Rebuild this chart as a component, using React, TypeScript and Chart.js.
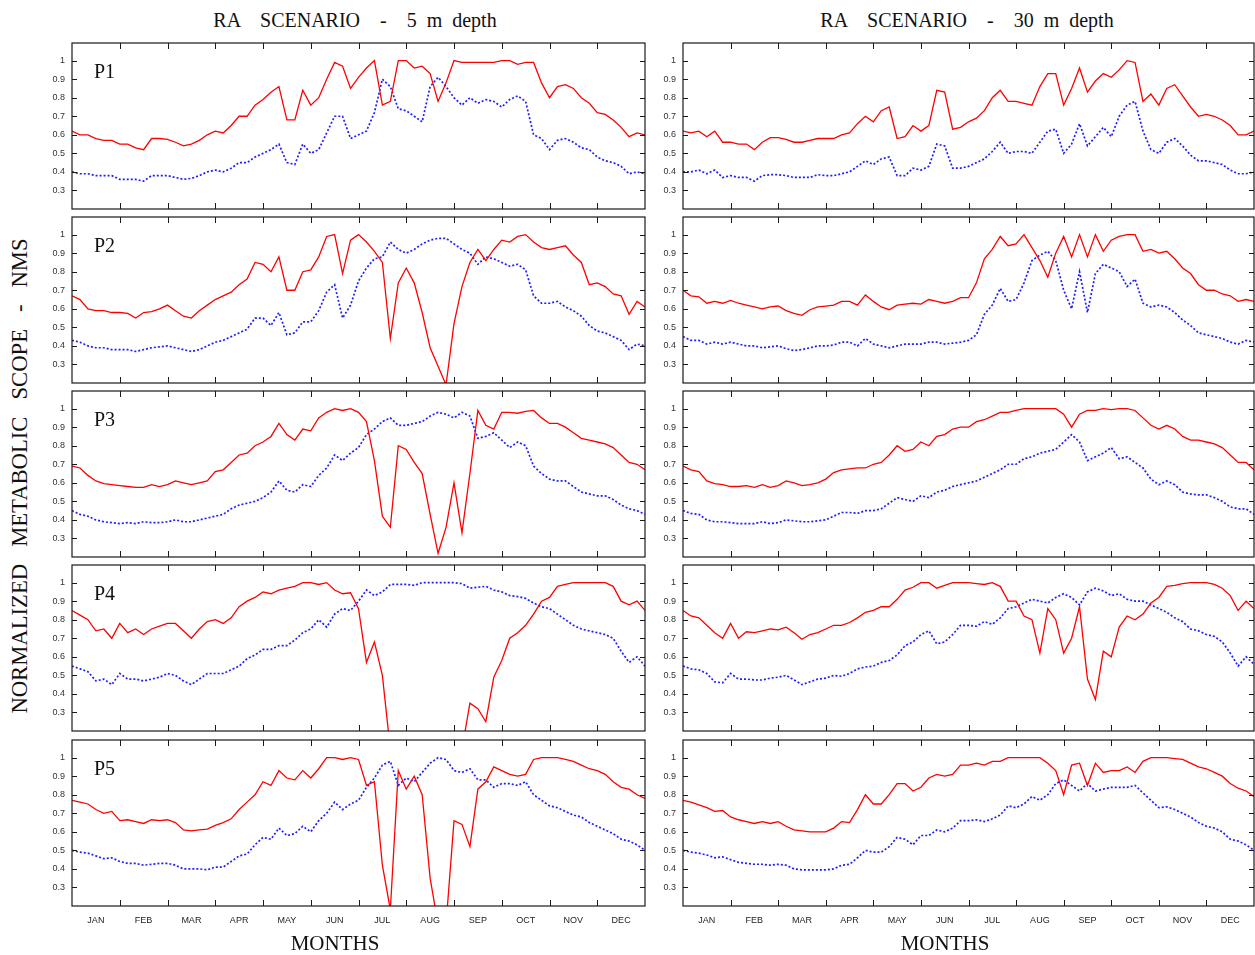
import React, { useEffect, useRef } from "react";
import { Chart, registerables } from "chart.js";
Chart.register(...registerables);

// ---------- data (values in hundredths of NMS, 6 samples per month, Jan 1 .. Dec 31) ----------
const MONTHS = ["JAN", "FEB", "MAR", "APR", "MAY", "JUN", "JUL", "AUG", "SEP", "OCT", "NOV", "DEC"];
const SAMPLES_PER_MONTH = 6;
const Y_TICKS = [1, 0.9, 0.8, 0.7, 0.6, 0.5, 0.4, 0.3];
const PANEL_LABELS = ["P1", "P2", "P3", "P4", "P5"];
const TITLES = ["RA    SCENARIO    -    5  m  depth", "RA    SCENARIO    -    30  m  depth"];

const p1_5_red = [62,60,60,58,57,57, 55,55,53,52,58,58, 57.5,56,54,55,57,60, 62,61,65,70,70,76, 79,83,86,68,68,84, 76,80,90,99,97,85, 91,96,100,76,78,100, 100,96,97,93,78,88, 100,99,99,99,99,99, 100,100,98,99,99,88, 80,86,87,85,80,77, 72,71,68,64,59,61, 60];
const p1_5_blue = [40,39,39,38,38,38, 36,36,36,35,38,38, 38,37,36,36.5,38,40, 41,40,42,45,45,48, 50,52,55,45,44,55, 50,52,61,70,70,58, 60,62,72,90,86,74, 73,70,67,86,91,86, 80,76,80,77,79,78, 75,79,81,78,60,58, 52,57,58,56,53,52, 48,46,45,43,39,40, 39];
const p1_30_red = [62,61,62,59,62,56, 56,55,55,52,56,58.5, 58.5,57.5,56,56,57,58, 58,58,60,61,66,70, 67,73,75,58,59,65, 62,65,84,83,63,64, 67,69,73,80,84,78, 78,77,76,86,93,93, 76,85,96,83,89,93, 91,95,100,99,78,82, 76,85,87,81,75,70, 71,70,68,65,60,60, 62];
const p1_30_blue = [40,40,41,39,41,37, 38,37,37,35,38,38.5, 38.5,38,37,37,37,38.5, 38,38,39,40,43,46, 44,47,48,38,38,42, 41,43,55,54,42,42, 43,45,47,51,56,50, 51,51,50,56,62,63, 50,55,66,54,59,64, 59,70,76,78,62,52, 50,56,58,54,49,46, 46,45,44,41,39,39, 40];

const p2_5_red = [67,65,60,59,59,58, 58,57.5,55,58,58.5,60, 62,59,56,55,59,62, 65,67,69,73,76,85, 84,80,88,70,70,80, 81,88,99,100,79,97, 100,96,91,85,44,74, 82,74,58,39,29,19, 52,72,85,92,86,92, 97,96,99,100,96,93, 92,93,94,89,85,73, 74,72,68,67,57,64, 61];
const p2_5_blue = [43,42,40,39,39,38, 38,38,37,38,39,39.5, 40,39,38,37,38,40, 42,43,45,47,49,55, 55,51,58,46,47,53, 53,59,69,73,55,62, 75,82,87,88,96,92, 90,92,95,97,98,98, 95,92,90,84,88,87, 85,83,84,81,67,63, 63,64,61,59,56,51, 48,47,45,43,38,41, 40];
const p2_30_red = [70,67,66.5,63,64,63, 64.5,63,62,61,60,61, 61.5,59,57.5,56.5,59.5,61, 61.5,62,64,64,62,67.5, 64,61,59.5,62,62.5,63, 62.5,65,64,63,64,66, 66,74,87,92,99,94, 95,100,93,86,77,90, 99,88,100,88,100,91, 97,99,100,100,91,92, 90,91,87,82,79,73, 70,70,68,67,64,65, 64];
const p2_30_blue = [45,43,43,41,42,41, 42,41,40,40,39,39.5, 40,38.5,37.5,38,39,40, 40,40.5,42,42,40,44, 41,40,39,40,41,41, 41,42,42,41,41.5,42, 43,46,57,62,71,64, 65,74,86,89,91,86, 70,60,80,58,79,84, 82,80,72,76,63,61, 62,61,58,54,51,47, 46,45,44,42,41,43, 42];

const p3_5_red = [69,68,64,61,59.5,59, 58.5,58,57.5,57.5,59,58, 59,61,60,59,60,61, 66,67,71,75,76,80, 82,85,92,86,83,89, 88,95,98,100,99,100, 98,93,72,42,36,80, 78,71,65,43,22,36, 60,33,65,99,91,89, 98,98,97.5,98.5,99,95, 92,92,90,87,84,83, 82,81,79,75,71,70, 67];
const p3_5_blue = [45,43,42,40,39,38.5, 38,38.5,38,39,38.5,38.5, 39,40,39,39,40,41, 42,43,46,48,49,50, 52,55,61,56,55,59, 58,64,68,75,72,76, 79,86,89,93,95,91, 91,92,93,96,98,97, 95,98,96,84,85,87, 83,79,82,80,69,65, 62,61,61,58,55,54, 53,53,51,48,46,45, 43];
const p3_30_red = [69,67,66,61,59.5,59, 58,58,58.5,57.5,59,57.5, 58.5,61,60,58.5,59,60, 62,65.5,67,67.5,68,68, 70,71,75,80,77,78, 82,80,85,86,89,90, 90,93,94,96,98,98, 99,100,100,100,100,100, 97,90,97,99,99,100, 99.5,100,100,99,95,91, 89,91,89,85,83,83, 82,81,79,75,71,71, 67];
const p3_30_blue = [45,43.5,43,40,39,39, 38.5,38,38,38,39,38, 38.5,40,39.5,39,39,39.5, 40,42,44,44,43.5,45, 45,46,49,52,51,50, 53,52,55,56,58,59, 60,61,63,65,67,70, 70,73,74,76,77,78, 82,86,82,72,74,76, 79,73,74,71,68,62, 59,61,59,55,54,53.5, 53.5,52,50,47,46,46, 43];

const p4_5_red = [85,82.5,80,74,75,70, 78,73,75,72,75,76.5, 78,78,74,70,75,79, 80,78,81,87,90,92, 95,94,96,97,98,100, 100,99,100,96,94,94.5, 86,57,68,50,10,19, 10,19,10,10,10,10, 10,10,35,32,25,49, 58,70,73,77,83,90, 92,98,99,100,100,100, 100,100,98,90,88,90, 85];
const p4_5_blue = [55,53.5,52,47,48,45, 51,48,48,47,48,49, 51,50,47,45,48,51, 51,51,53,55,59,61, 64,64,66,66,69,73, 75,80,76,83,86,85, 90,96,93,95,99,99, 99,98.5,100,100,100,100, 100,99.5,97,97.5,98,96, 95,93,92.5,91.5,89,87, 86,83,80,77,75,74, 73,72,70,63,57,60, 55];
const p4_30_red = [85,82,81,77,73,70, 78,70,73.5,73,74,75, 74.5,76,73,69.5,72,73, 75,77,77,78.5,81,84, 85,87,87,91,96,97.5, 100,100,97,98.5,100,100, 100,99.5,99,100,98,90, 90,82,80,62,86,80, 62,70,87,48,37,63, 60,76,82,80,83,89, 92,98,98.5,99.5,100,100, 100,99,97,93,85,90, 86];
const p4_30_blue = [55,53.5,53,51,46.5,46, 51,48,48,47.5,47.5,48.5, 49,50,47.5,45,46.5,48, 48.5,50,49.5,51,53.5,54.5, 55,57,58,61,66,68, 72,74,67,68,72,77, 77,76.5,79,77.5,81,86, 87,89,91,90,89,92, 94,92,88,95,97,95.5, 93,94,91,90,90,88, 86,84,81,79,75,74, 72,71,68,62,55,60, 56];

const p5_5_red = [77,76,75,72,70,71, 66,66.5,65.5,64.5,66.5,66, 66.5,65,61,60.5,61,61.5, 63.5,65,67,72,76,80, 87,85,93,89,88,93, 89,94,100,100,99,100, 99,85,87,42,18,93, 83,90,80,35,10,10, 66,64,52,83,87,95, 93,91,90,91,99,100, 100,100,99,98,96,94, 93,91,87,84,83,80, 78];
const p5_5_blue = [50,49,48.5,47,45.5,46, 44,43,43,42,42.5,43, 43,42,40,40,40,39.5, 41,41,44,47,48,53, 57,56,62,58,59,63, 60,66,70,76,72,75, 77,84,89,96,98,85, 89,87,92,97,100,99, 93,92,94,88,88,84, 86,86,85,87,80,77, 74,73,71,69,68,65, 63,61,59,56,55,53, 50];
const p5_30_red = [77,76,74.5,73,71,71.5, 68,66.5,65.5,64.5,65.5,64.5, 65.5,63,61,60.5,60,60, 60,62,65.5,65,72,80, 75,75,80,86,86,82, 84,89,91,90,91,96, 96,97,96,98,98,100, 100,100,100,100,97,93, 80,96,97,85,97,92, 93,93,95,92,98,100, 100,100,99.5,99,97,95, 94,92,90,86,83.5,82, 79];
const p5_30_blue = [50,49,48.5,47.5,46,46.5, 45,43.5,43,42.5,42.5,42, 42.5,42,40,39.5,39.5,39.5, 39.5,40,42,42.5,46,50, 49,49,52,57,56,53, 58,58,61,60,62,66, 66,66.5,65.5,67,69,74, 73,75,79,77,80,86, 88,85,82,86,82,83, 84,84,84,85,81,77, 73,73.5,72,70,68,65, 63,62,60,56,55,53, 50];

const SERIES_5M = [
  [p1_5_red, p1_5_blue],
  [p2_5_red, p2_5_blue],
  [p3_5_red, p3_5_blue],
  [p4_5_red, p4_5_blue],
  [p5_5_red, p5_5_blue],
];
const SERIES_30M = [
  [p1_30_red, p1_30_blue],
  [p2_30_red, p2_30_blue],
  [p3_30_red, p3_30_blue],
  [p4_30_red, p4_30_blue],
  [p5_30_red, p5_30_blue],
];

// ---------- layout ----------
const COL_LEFT = [72, 683];
const COL_WIDTH = [573, 571];
const ROW_TOP = [43, 217, 391, 565, 740];
const ROW_H = 166;
const AXIS_W = 40;
const PAD = 3;
const XAXIS_H = 26;

const SERIF = "'Liberation Serif', 'DejaVu Serif', serif";
const SANS = "'Liberation Sans', Arial, sans-serif";

const framePlugin = {
  id: "frame",
  afterDraw(chart: any) {
    const { ctx, chartArea: a, scales } = chart;
    ctx.save();
    ctx.strokeStyle = "#1a1a1a";
    ctx.lineWidth = 1.2;
    ctx.strokeRect(a.left, a.top, a.right - a.left, a.bottom - a.top);
    ctx.lineWidth = 1;
    ctx.beginPath();
    for (let m = 1; m < MONTHS.length; m++) {
      const x = Math.round(scales.x.getPixelForValue(m)) + 0.5;
      ctx.moveTo(x, a.bottom);
      ctx.lineTo(x, a.bottom - 6);
      ctx.moveTo(x, a.top);
      ctx.lineTo(x, a.top + 6);
    }
    for (const v of Y_TICKS) {
      const y = Math.round(scales.y.getPixelForValue(v)) + 0.5;
      ctx.moveTo(a.left, y);
      ctx.lineTo(a.left + 5, y);
      ctx.moveTo(a.right, y);
      ctx.lineTo(a.right - 5, y);
    }
    ctx.stroke();
    ctx.restore();
  },
};

function Panel(props: { red: number[]; blue: number[]; col: number; row: number }) {
  const { red, blue, col, row } = props;
  const ref = useRef<HTMLCanvasElement>(null);
  const bottom = row === ROW_TOP.length - 1;
  const left = COL_LEFT[col] - AXIS_W;
  const top = ROW_TOP[row] - PAD;
  const rightPad = col === 0 ? PAD : 1;
  const width = AXIS_W + COL_WIDTH[col] + rightPad;
  const height = ROW_H + PAD + (bottom ? XAXIS_H : PAD);

  useEffect(() => {
    const toPts = (arr: number[]) => arr.map((v, i) => ({ x: i / SAMPLES_PER_MONTH, y: v / 100 }));
    const chart = new Chart(ref.current as HTMLCanvasElement, {
      type: "line",
      data: {
        datasets: [
          { data: toPts(red), borderColor: "#ff0000", borderWidth: 1.3, pointRadius: 0, tension: 0, fill: false },
          { data: toPts(blue), borderColor: "#1e1eff", borderWidth: 1.7, borderDash: [2, 2], pointRadius: 0, tension: 0, fill: false },
        ],
      },
      options: {
        animation: false,
        responsive: true,
        maintainAspectRatio: false,
        events: [],
        layout: { padding: { left: 0, right: rightPad, top: PAD, bottom: bottom ? 0 : PAD } },
        plugins: { legend: { display: false }, tooltip: { enabled: false }, title: { display: false } },
        scales: {
          x: {
            type: "linear",
            min: 0,
            max: MONTHS.length,
            display: bottom,
            grid: { display: false, drawTicks: false },
            border: { display: false },
            afterBuildTicks: (s: any) => {
              s.ticks = MONTHS.map((_, i) => ({ value: i + 0.5 }));
            },
            ticks: {
              autoSkip: false,
              maxRotation: 0,
              padding: 9,
              color: "#222",
              font: { family: SANS, size: 9 },
              callback: (v: any) => MONTHS[Math.floor(Number(v))],
            },
            afterFit: (s: any) => {
              s.height = bottom ? XAXIS_H : 0;
              s.paddingLeft = 0;
              s.paddingRight = 0;
            },
          },
          y: {
            type: "linear",
            min: 0.2,
            max: 1.095,
            grid: { display: false, drawTicks: false },
            border: { display: false },
            afterBuildTicks: (s: any) => {
              s.ticks = Y_TICKS.map((v) => ({ value: v }));
            },
            ticks: {
              padding: 7,
              color: "#333",
              font: { family: SANS, size: 9 },
              callback: (v: any) => String(Math.round(Number(v) * 10) / 10),
            },
            afterFit: (s: any) => {
              s.width = AXIS_W;
              s.paddingTop = 0;
              s.paddingBottom = 0;
            },
          },
        },
      } as any,
      plugins: [framePlugin],
    });
    return () => chart.destroy();
  }, []);

  return (
    <div style={{ position: "absolute", left, top, width, height }}>
      <canvas ref={ref} />
    </div>
  );
}

export default function App() {
  const textBase: React.CSSProperties = { position: "absolute", fontFamily: SERIF, color: "#111", whiteSpace: "pre" };
  return (
    <div style={{ position: "fixed", left: 0, top: 0, width: 1255, height: 955, overflow: "hidden", background: "#fff" }}>
      {/* column titles */}
      <div style={{ ...textBase, left: 355 - 250, top: 10, width: 500, textAlign: "center", fontSize: 20, lineHeight: "20px" }}>{TITLES[0]}</div>
      <div style={{ ...textBase, left: 967 - 250, top: 10, width: 500, textAlign: "center", fontSize: 20, lineHeight: "20px" }}>{TITLES[1]}</div>

      {/* y axis title */}
      <div
        style={{
          ...textBase,
          left: 19,
          top: 476,
          fontSize: 24,
          lineHeight: "24px",
          transform: "translate(-50%, -50%) rotate(-90deg) scaleX(0.944)",
        }}
      >
        {"NORMALIZED   METABOLIC   SCOPE   -   NMS"}
      </div>

      {SERIES_5M.map((s, r) => (
        <Panel key={"l" + r} red={s[0]} blue={s[1]} col={0} row={r} />
      ))}
      {SERIES_30M.map((s, r) => (
        <Panel key={"r" + r} red={s[0]} blue={s[1]} col={1} row={r} />
      ))}

      {PANEL_LABELS.map((t, r) => (
        <div key={t} style={{ ...textBase, left: 94, top: ROW_TOP[r] + 18, fontSize: 20, lineHeight: "20px" }}>{t}</div>
      ))}

      {/* x axis titles */}
      <div style={{ ...textBase, left: 335 - 100, top: 933, width: 200, textAlign: "center", fontSize: 21, lineHeight: "21px" }}>MONTHS</div>
      <div style={{ ...textBase, left: 945 - 100, top: 933, width: 200, textAlign: "center", fontSize: 21, lineHeight: "21px" }}>MONTHS</div>
    </div>
  );
}
